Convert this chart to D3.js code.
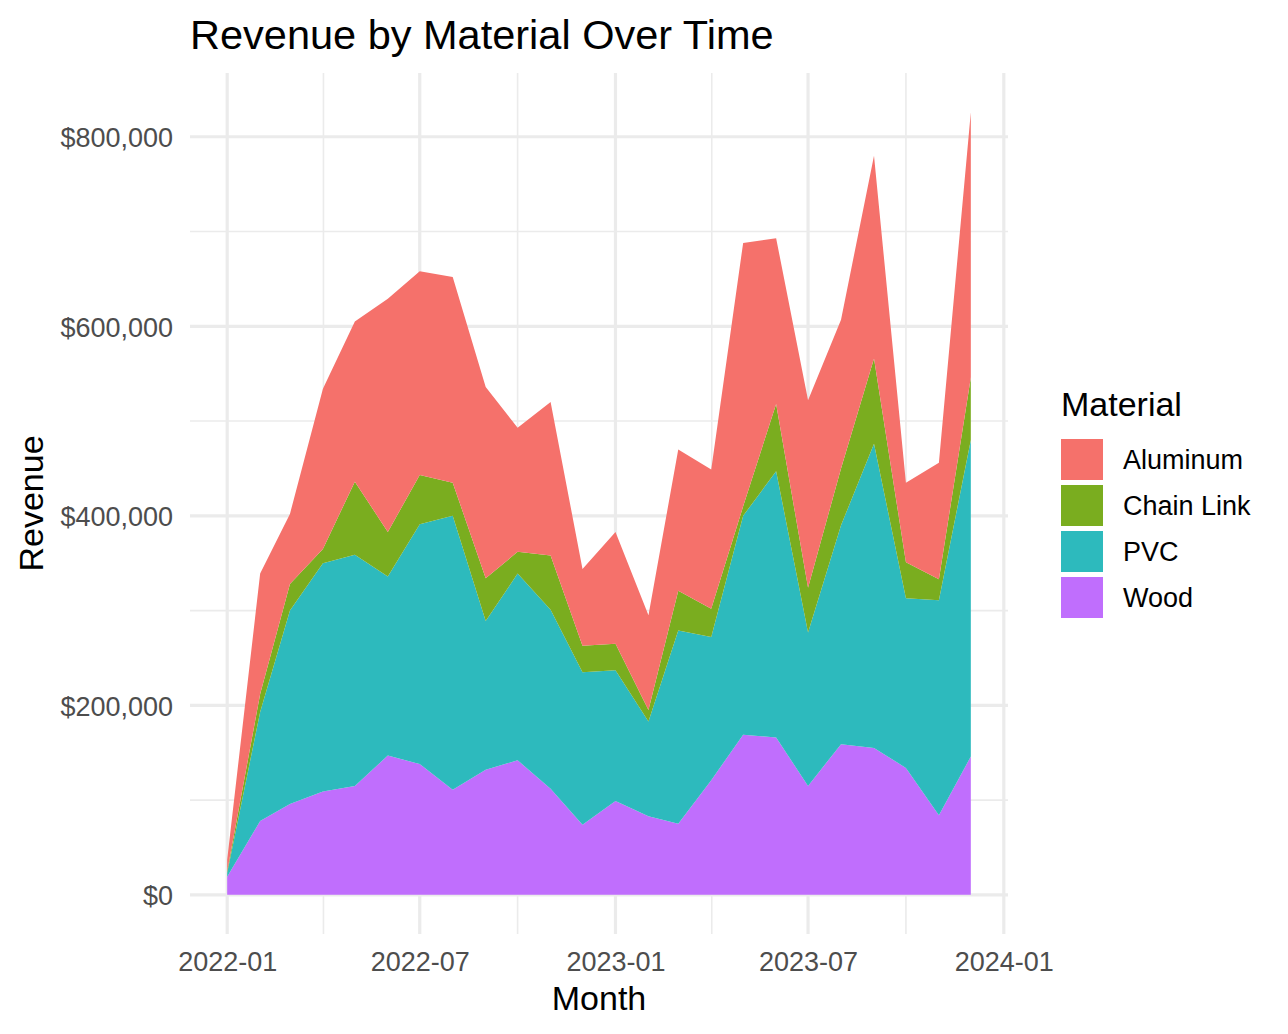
<!DOCTYPE html>
<html>
<head>
<meta charset="utf-8">
<script src="https://cdn.jsdelivr.net/npm/d3@7"></script>
<style>
  body { margin: 0; background: #fff; }
  svg { display: block; font-family: "Liberation Sans", Arial, sans-serif; }
</style>
</head>
<body>
<div id="chart"></div>
<script>
var svgWidth = 1288;
var svgHeight = 1034;

// data (monthly revenue, $)
var months = ["2022-01", "2022-02", "2022-03", "2022-04", "2022-05", "2022-06",
  "2022-07", "2022-08", "2022-09", "2022-10", "2022-11", "2022-12",
  "2023-01", "2023-02", "2023-03", "2023-04", "2023-05", "2023-06",
  "2023-07", "2023-08", "2023-09", "2023-10", "2023-11", "2023-12"];

var materials = ["Aluminum", "Chain Link", "PVC", "Wood"];

var aluminum = [12000, 127000, 74000, 169000, 169000, 246000, 215000, 217000, 202000, 131000, 162000, 81000,
  118000, 100000, 149000, 147000, 278000, 175000, 198000, 157000, 214000, 84000, 123000, 280000];
var chainLink = [2000, 19000, 28000, 15000, 77000, 47000, 52000, 35000, 45000, 23000, 57000, 28000,
  28000, 12000, 42000, 30000, 10000, 71000, 47000, 60000, 90000, 38000, 22000, 66000];
var pvc = [4000, 115000, 204000, 241000, 244000, 189000, 253000, 289000, 157000, 197000, 189000, 161000,
  138000, 100000, 204000, 151000, 231000, 281000, 162000, 231000, 321000, 179000, 227000, 334000];
var wood = [19000, 78000, 96000, 109000, 115000, 147000, 138000, 111000, 132000, 142000, 112000, 74000,
  99000, 83000, 75000, 121000, 169000, 166000, 115000, 159000, 155000, 134000, 84000, 146000];

var xTickLabels = ["2022-01", "2022-07", "2023-01", "2023-07", "2024-01"];
var yTicks = [0, 200000, 400000, 600000, 800000];

var colors = {
  "Aluminum": "#F5716B",
  "Chain Link": "#7AAD1F",
  "PVC": "#2DBABD",
  "Wood": "#C06EFD"
};

var panel = { left: 190, right: 1008, top: 73, bottom: 934 };

var parseMonth = d3.utcParse("%Y-%m");

var rows = months.map(function(m, i) {
  return {
    date: parseMonth(m),
    "Aluminum": aluminum[i],
    "Chain Link": chainLink[i],
    "PVC": pvc[i],
    "Wood": wood[i]
  };
});

// Wood sits at the bottom of the stack, Aluminum on top
var stack = d3.stack().keys(materials.slice().reverse());
var series = stack(rows);

var t0 = rows[0].date, t1 = rows[rows.length - 1].date;
var span = t1 - t0;
var xScale = d3.scaleUtc()
  .domain([new Date(+t0 - 0.05 * span), new Date(+t1 + 0.05 * span)])
  .range([panel.left, panel.right]);

var yMax = d3.max(series[series.length - 1], d => d[1]);
var yScale = d3.scaleLinear()
  .domain([-0.05 * yMax, 1.05 * yMax])
  .range([panel.bottom, panel.top]);

var svg = d3.select("#chart").append("svg")
  .attr("width", svgWidth)
  .attr("height", svgHeight);

svg.append("rect")
  .attr("width", svgWidth)
  .attr("height", svgHeight)
  .attr("fill", "#fff");

// grid
var xMajor = xTickLabels.map(parseMonth);
var xMinor = [];
for (var i = 0; i < xMajor.length - 1; i++) {
  xMinor.push(new Date((+xMajor[i] + +xMajor[i + 1]) / 2));
}
var yMinor = [];
for (var j = 0; j < yTicks.length - 1; j++) {
  yMinor.push((yTicks[j] + yTicks[j + 1]) / 2);
}

var grid = svg.append("g");

grid.selectAll(".yminor")
  .data(yMinor)
  .enter()
  .append("line")
  .attr("x1", panel.left).attr("x2", panel.right)
  .attr("y1", d => yScale(d)).attr("y2", d => yScale(d))
  .attr("stroke", "#EBEBEB")
  .attr("stroke-width", 1.6);

grid.selectAll(".xminor")
  .data(xMinor)
  .enter()
  .append("line")
  .attr("x1", d => xScale(d)).attr("x2", d => xScale(d))
  .attr("y1", panel.top).attr("y2", panel.bottom)
  .attr("stroke", "#EBEBEB")
  .attr("stroke-width", 1.6);

grid.selectAll(".ymajor")
  .data(yTicks)
  .enter()
  .append("line")
  .attr("x1", panel.left).attr("x2", panel.right)
  .attr("y1", d => yScale(d)).attr("y2", d => yScale(d))
  .attr("stroke", "#EBEBEB")
  .attr("stroke-width", 3.2);

grid.selectAll(".xmajor")
  .data(xMajor)
  .enter()
  .append("line")
  .attr("x1", d => xScale(d)).attr("x2", d => xScale(d))
  .attr("y1", panel.top).attr("y2", panel.bottom)
  .attr("stroke", "#EBEBEB")
  .attr("stroke-width", 3.2);

// stacked areas
var area = d3.area()
  .x(d => xScale(d.data.date))
  .y0(d => yScale(d[0]))
  .y1(d => yScale(d[1]));

svg.append("g")
  .selectAll("path")
  .data(series)
  .enter()
  .append("path")
  .attr("d", area)
  .attr("fill", d => colors[d.key]);

// axes (no lines, labels only, like theme_minimal)
var bottomAxis = d3.axisBottom(xScale)
  .tickValues(xMajor)
  .tickFormat(d3.utcFormat("%Y-%m"))
  .tickSize(0)
  .tickPadding(0);

var xAxis = svg.append("g")
  .attr("transform", `translate(0, ${panel.bottom})`)
  .call(bottomAxis);

xAxis.select(".domain").remove();
xAxis.selectAll("text")
  .attr("y", 37)
  .attr("dy", 0)
  .attr("font-size", "27px")
  .attr("font-family", "Liberation Sans, Arial, sans-serif")
  .attr("fill", "#4D4D4D");

var leftAxis = d3.axisLeft(yScale)
  .tickValues(yTicks)
  .tickFormat(d => "$" + d3.format(",")(d))
  .tickSize(0)
  .tickPadding(0);

var yAxis = svg.append("g")
  .attr("transform", `translate(${panel.left - 17}, 0)`)
  .call(leftAxis);

yAxis.select(".domain").remove();
yAxis.selectAll("text")
  .attr("dy", "0.36em")
  .attr("font-size", "27px")
  .attr("font-family", "Liberation Sans, Arial, sans-serif")
  .attr("fill", "#4D4D4D");

// titles
svg.append("text")
  .attr("x", panel.left)
  .attr("y", 49)
  .attr("font-size", "41.5px")
  .attr("fill", "#000")
  .text("Revenue by Material Over Time");

svg.append("text")
  .attr("x", (panel.left + panel.right) / 2)
  .attr("y", 1010)
  .attr("text-anchor", "middle")
  .attr("font-size", "34px")
  .attr("fill", "#000")
  .text("Month");

svg.append("text")
  .attr("transform", `translate(43, ${(panel.top + panel.bottom) / 2}) rotate(-90)`)
  .attr("text-anchor", "middle")
  .attr("font-size", "34px")
  .attr("fill", "#000")
  .text("Revenue");

// legend
var legend = svg.append("g")
  .attr("transform", "translate(1061, 416)");

legend.append("text")
  .attr("x", 0)
  .attr("y", 0)
  .attr("font-size", "34px")
  .attr("fill", "#000")
  .text("Material");

var keys = legend.selectAll(".key")
  .data(materials)
  .enter()
  .append("g")
  .attr("transform", (d, i) => `translate(0, ${23 + i * 46})`);

keys.append("rect")
  .attr("width", 42)
  .attr("height", 41)
  .attr("fill", d => colors[d]);

keys.append("text")
  .attr("x", 62)
  .attr("y", 30)
  .attr("font-size", "27px")
  .attr("fill", "#000")
  .text(d => d);
</script>
</body>
</html>
